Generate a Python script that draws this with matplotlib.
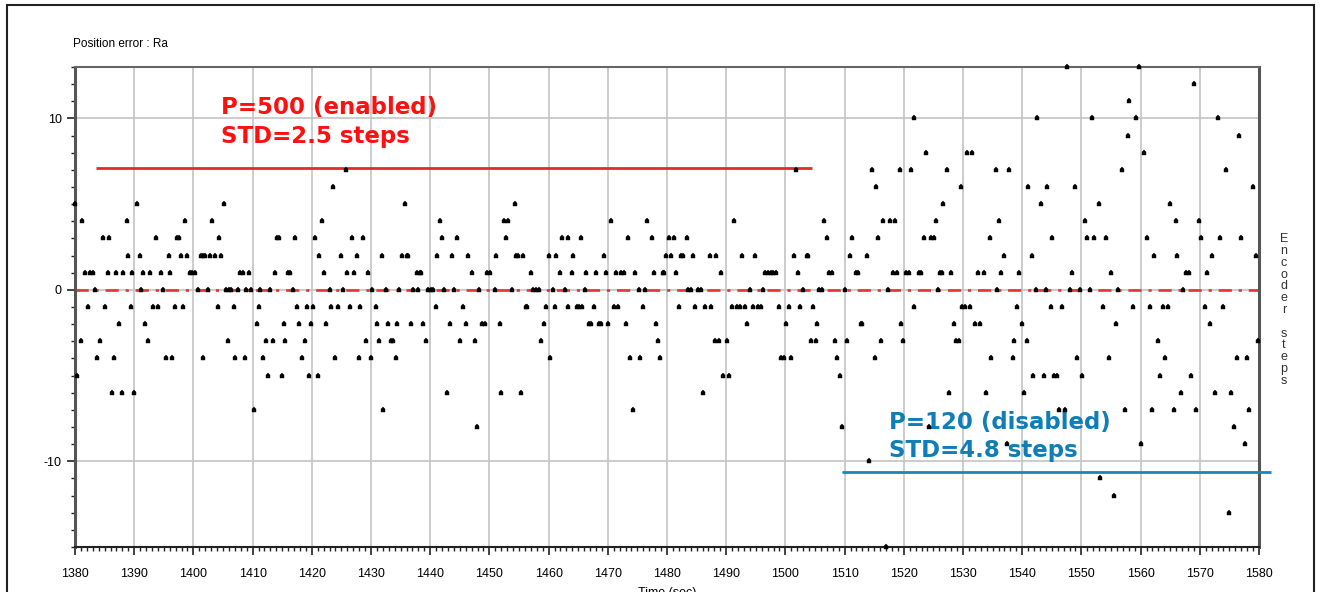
import matplotlib
matplotlib.use("Agg")
import matplotlib.pyplot as plt
from matplotlib.ticker import MultipleLocator
from matplotlib.patches import Rectangle

plt.rcParams["axes.unicode_minus"] = False

# Sampled position error (time in s, error in encoder steps)
time_enabled_a = [
    1380.0, 1380.3, 1381.0, 1381.1, 1381.7, 1382.2, 1382.6, 1383.0, 1383.4, 1383.8,
    1384.3, 1384.7, 1385.1, 1385.6, 1385.8, 1386.2, 1386.6, 1387.0, 1387.5, 1387.9,
    1388.1, 1388.7, 1389.0, 1389.4, 1389.7, 1390.0, 1390.4, 1390.9, 1391.1, 1391.5,
    1391.9, 1392.3, 1392.7, 1393.2, 1393.6, 1394.1, 1394.5, 1394.9, 1395.3, 1395.8,
    1396.0, 1396.4, 1396.9, 1397.2, 1397.5, 1397.9, 1398.2, 1398.5, 1398.9, 1399.4,
    1399.7, 1400.2, 1400.7, 1401.2, 1401.6, 1401.7, 1402.0, 1402.4, 1402.8, 1403.2,
    1403.6, 1404.1, 1404.3, 1404.7, 1405.1, 1405.5, 1405.8, 1406.0, 1406.3, 1406.8,
    1407.0, 1407.5, 1407.9, 1408.3, 1408.7, 1408.9, 1409.4, 1409.8, 1410.3, 1410.7,
    1411.1, 1411.3, 1411.7, 1412.2, 1412.6, 1413.0, 1413.4, 1413.8, 1414.1, 1414.5,
    1414.9, 1415.3, 1415.5, 1415.9, 1416.4, 1416.8, 1417.2, 1417.5, 1417.9, 1418.3,
    1418.8, 1419.2, 1419.6, 1419.8, 1420.2, 1420.6, 1421.0, 1421.3,
]
error_enabled_a = [
    5, -5, -3, 4, 1, -1, 1, 1, 0, -4,
    -3, 3, -1, 1, 3, -6, -4, 1, -2, -6,
    1, 4, 2, -1, 1, -6, 5, 2, 0, 1,
    -2, -3, 1, -1, 3, -1, 1, 0, -4, 2,
    1, -4, -1, 3, 3, 2, -1, 4, 2, 1,
    1, 1, 0, 2, 2, -4, 2, 0, 2, 4,
    2, -1, 3, 2, 5, 0, -3, 0, 0, -1,
    -4, 0, 1, 1, -4, 0, 1, 0, -7, -2,
    -1, 0, -4, -3, -5, 0, -3, 1, 3, 3,
    -5, -2, -3, 1, 1, 0, 3, -1, -2, -4,
    -3, -1, -5, -2, -1, 3, -5, 2,
]

time_enabled_b = [
    1421.7, 1422.1, 1422.4, 1423.0, 1423.2, 1423.6, 1424.0, 1424.5, 1424.9, 1425.3,
    1425.7, 1425.9, 1426.4, 1426.8, 1427.2, 1427.6, 1428.0, 1428.2, 1428.7, 1429.1,
    1429.5, 1430.0, 1430.2, 1430.8, 1431.0, 1431.4, 1431.9, 1432.1, 1432.5, 1432.9,
    1433.3, 1433.8, 1434.2, 1434.4, 1434.8, 1435.2, 1435.7, 1436.1, 1436.3, 1436.8,
    1437.1, 1437.8, 1438.0, 1438.2, 1438.5, 1438.8, 1439.3, 1439.7, 1440.1, 1440.5,
    1441.0, 1441.2, 1441.6, 1442.0, 1442.4, 1442.9, 1443.3, 1443.7, 1444.1, 1444.5,
    1445.0, 1445.6, 1446.0, 1446.4, 1447.1, 1447.5, 1447.9, 1448.3, 1448.8, 1449.2,
    1449.6, 1450.1, 1450.9, 1451.1, 1451.8, 1452.0, 1452.4, 1452.8, 1453.2, 1453.9,
    1454.3, 1454.5, 1454.9, 1455.4, 1455.7, 1456.2, 1456.4, 1457.0, 1457.4, 1457.9,
    1458.3, 1458.7, 1459.2, 1459.6, 1460.0, 1460.2, 1460.8, 1461.0, 1461.3,
]
error_enabled_b = [
    4, 1, -2, 0, -1, 6, -4, -1, 2, 0,
    7, 1, -1, 3, 1, 2, -4, -1, 3, -3,
    1, -4, 0, -1, -2, -3, 2, -7, 0, -2,
    -3, -3, -4, -2, 0, 2, 5, 2, 2, -2,
    0, 1, 0, 1, 1, -2, -3, 0, 0, 0,
    -1, 2, 4, 3, 0, -6, -2, 2, 0, 3,
    -3, -1, -2, 2, 1, -3, -8, 0, -2, -2,
    1, 1, 0, 2, -2, -6, 4, 3, 4, 0,
    5, 2, 2, -6, 2, -1, -1, 1, 0, 0,
    0, -3, -2, -1, 2, -4, 0, -1, 2,
]

time_enabled_c = [
    1461.9, 1462.3, 1462.7, 1463.2, 1463.3, 1464.0, 1464.2, 1464.8, 1465.2, 1465.4,
    1465.6, 1466.1, 1466.4, 1466.8, 1467.2, 1467.6, 1468.0, 1468.5, 1468.9, 1469.3,
    1469.7, 1470.1, 1470.6, 1471.0, 1471.4, 1471.8, 1472.3, 1472.7, 1473.1, 1473.4,
    1473.8, 1474.2, 1474.6, 1475.2, 1475.5, 1475.9, 1476.3, 1476.7, 1477.4, 1477.8,
    1478.2, 1478.4, 1478.9, 1479.3, 1479.5, 1479.9, 1480.3, 1480.7, 1481.2, 1481.6,
    1482.1, 1482.3, 1482.7, 1483.3, 1483.5, 1484.1, 1484.4, 1484.8, 1485.2, 1485.7,
    1486.1, 1486.5, 1487.2, 1487.5, 1488.1, 1488.3, 1488.7, 1489.1, 1489.5, 1490.1,
    1490.5, 1491.0, 1491.4, 1491.8, 1492.3, 1492.7, 1493.1, 1493.5, 1494.0, 1494.6,
    1494.8, 1495.3, 1495.8, 1496.3, 1496.6, 1497.1, 1497.5, 1497.9, 1498.4, 1498.9,
    1499.3, 1499.7, 1500.1, 1500.6, 1501.0, 1501.4, 1501.8, 1502.1,
]
error_enabled_c = [
    1, 3, 0, -1, 3, 1, 2, -1, -1, 3,
    -1, 0, 1, -2, -2, -1, 1, -2, -2, 2,
    1, -2, 4, -1, 1, -1, 1, 1, -2, 3,
    -4, -7, 1, 0, -4, -1, 0, 4, 3, 1,
    -2, -3, -4, 1, 1, 2, 3, 2, 3, 1,
    -1, 2, 2, 3, 0, 0, 2, -1, 0, 0,
    -6, -1, 2, -1, -3, 2, -3, 1, -5, -3,
    -5, -1, 4, -1, -1, 2, -1, -2, 0, -1,
    2, -1, -1, 0, 1, 1, 1, 1, 1, -1,
    -4, -4, -2, -1, -4, 2, 7, 1,
]

time_disabled_a = [
    1502.5, 1503.0, 1503.6, 1503.8, 1504.3, 1504.6, 1505.1, 1505.3, 1505.7, 1506.1,
    1506.6, 1507.0, 1507.4, 1507.9, 1508.3, 1508.7, 1509.3, 1509.6, 1510.1, 1510.4,
    1510.9, 1511.3, 1511.9, 1512.3, 1512.7, 1512.9, 1513.8, 1514.2, 1514.7, 1515.1,
    1515.3, 1515.7, 1516.2, 1516.5, 1517.0, 1517.4, 1517.6, 1518.2, 1518.5, 1518.9,
    1519.3, 1519.5, 1519.9, 1520.4, 1520.8, 1521.2, 1521.7, 1521.8, 1522.5, 1522.9,
    1523.4, 1523.8, 1524.2, 1524.6, 1525.1, 1525.5, 1525.7, 1526.1, 1526.5, 1526.7,
    1527.3, 1527.6, 1528.0, 1528.4, 1528.9, 1529.3, 1529.7, 1529.9, 1530.3, 1530.7,
    1531.2, 1531.6, 1532.0, 1532.5, 1532.9, 1533.5, 1533.9, 1534.6, 1534.8, 1535.5,
    1535.7, 1536.1, 1536.5, 1536.9, 1537.5, 1537.8, 1538.4, 1538.6, 1539.1, 1539.4,
    1539.9, 1540.3, 1540.8, 1541.0, 1541.6, 1541.8, 1542.3, 1542.5,
]
error_disabled_a = [
    -1, 0, 2, 2, -3, -1, -3, -2, 0, 0,
    4, 3, 1, 1, -3, -4, -5, -8, 0, -3,
    2, 3, 1, 1, -2, -2, 2, -10, 7, -4,
    6, 3, -3, 4, -15, 0, 4, 1, 4, 1,
    7, -2, -3, 1, 1, 7, -1, 10, 1, 1,
    3, 8, -8, 3, 3, 4, 0, 1, 1, 5,
    7, -6, 1, -2, -3, -3, 6, -1, -1, 8,
    -1, 8, -2, 1, -2, 1, -6, 3, -4, 7,
    0, 4, 1, 2, -9, 7, -4, -3, -1, 1,
    -2, -6, -3, 6, 2, -5, 0, 10,
]

time_disabled_b = [
    1543.1, 1543.6, 1544.0, 1544.2, 1544.8, 1545.1, 1545.4, 1545.9, 1546.3, 1546.7,
    1547.2, 1547.6, 1548.0, 1548.4, 1548.9, 1549.3, 1549.7, 1550.1, 1550.6, 1551.0,
    1551.4, 1551.8, 1552.2, 1552.9, 1553.1, 1553.7, 1554.2, 1554.6, 1555.0, 1555.5,
    1555.8, 1556.2, 1556.9, 1557.3, 1557.8, 1558.1, 1558.8, 1559.2, 1559.7, 1560.1,
    1560.5, 1561.0, 1561.6, 1562.0, 1562.2, 1562.9, 1563.3, 1563.7, 1564.1, 1564.6,
    1564.9, 1565.6, 1566.0, 1566.2, 1566.9, 1567.2, 1567.7, 1568.1, 1568.5, 1569.0,
    1569.4, 1569.8, 1570.2, 1570.8, 1571.3, 1571.7, 1572.1, 1572.6, 1573.0, 1573.4,
    1574.0, 1574.5, 1574.9, 1575.3, 1575.7, 1576.2, 1576.6, 1577.0, 1577.6, 1577.9,
    1578.3, 1579.0, 1579.5, 1579.8,
]
error_disabled_b = [
    5, -5, 0, 6, -1, 3, -5, -5, -7, -1,
    -7, 13, 0, 1, 6, -4, 0, -5, 4, 3,
    0, 10, 3, 5, -11, -1, 3, -4, 1, -12,
    -2, 0, 7, -7, 9, 11, -1, 10, 13, -9,
    8, 3, -1, -7, 2, -3, -5, -1, -4, -1,
    5, -7, 4, 2, -6, 0, 1, 1, -5, 12,
    -7, 4, 3, -1, 1, -2, 2, -6, 10, 3,
    -1, 7, -13, -6, -8, -4, 9, 3, -9, -4,
    -7, 6, 2, -3,
]

time_s = (time_enabled_a + time_enabled_b + time_enabled_c
          + time_disabled_a + time_disabled_b)
error_steps = (error_enabled_a + error_enabled_b + error_enabled_c
               + error_disabled_a + error_disabled_b)

# Annotated segments: P gain, standard deviation, level of marker line, span
enabled_label = "P=500 (enabled)\nSTD=2.5 steps"
enabled_line_y = 7.1
enabled_line_x = [1383.5, 1504.5]
disabled_label = "P=120 (disabled)\nSTD=4.8 steps"
disabled_line_y = -10.6
disabled_line_x = [1509.6, 1582.0]

x_min, x_max = 1380, 1580
y_min, y_max = -15, 13

W, H = 1322, 592
fig = plt.figure(figsize=(W / 100, H / 100), dpi=100)
fig.patch.set_facecolor("white")
ax = fig.add_axes([75 / W, 1 - 547 / H, (1259 - 75) / W, (547 - 67) / H])

# outer frame of the plot window
fig.add_artist(Rectangle((7 / W, -0.05), (1314 - 7) / W, 1.05 - 5 / H,
                         transform=fig.transFigure, fill=False,
                         edgecolor="#222222", linewidth=1.5))

ax.set_xlim(x_min, x_max)
ax.set_ylim(y_min, y_max)

ax.xaxis.set_major_locator(MultipleLocator(10))
ax.xaxis.set_minor_locator(MultipleLocator(1))
ax.yaxis.set_major_locator(MultipleLocator(10))
ax.yaxis.set_minor_locator(MultipleLocator(1))
ax.grid(True, which="major", color="#c4c4c4", linewidth=1.2)
ax.set_axisbelow(True)

ax.tick_params(axis="both", which="major", direction="out", length=6,
               width=1.2, color="#222222", labelsize=9)
ax.tick_params(axis="both", which="minor", direction="out", length=3,
               width=1.0, color="#222222")
for lbl in ax.get_xticklabels() + ax.get_yticklabels():
    lbl.set_fontfamily("Liberation Sans")
ax.tick_params(axis="x", pad=9)

for side in ("left", "right"):
    ax.spines[side].set_color("#555555")
    ax.spines[side].set_linewidth(2.2)
ax.spines["top"].set_color("#666666")
ax.spines["top"].set_linewidth(1.5)
ax.spines["bottom"].set_color("#222222")
ax.spines["bottom"].set_linewidth(1.5)

# zero reference
ax.axhline(0, color="#e43434", linewidth=1.9, dashes=(5, 2.6, 1.2, 2.6), zorder=2)

# error samples
ax.plot(time_s, error_steps, linestyle="none", marker="p", markersize=3.7,
        color="black", markeredgewidth=0.3, clip_on=False, zorder=4)

# segment annotations
ax.plot(enabled_line_x, [enabled_line_y] * 2, color="#e8282a", linewidth=2.0,
        solid_capstyle="butt", zorder=3)
ax.text(1404.7, 9.8, enabled_label, color="#ff1010", fontsize=16.5,
        fontweight="bold", family="DejaVu Sans", ha="left", va="center",
        linespacing=1.35)
ax.plot(disabled_line_x, [disabled_line_y] * 2, color="#1786bf", linewidth=2.0,
        solid_capstyle="butt", clip_on=False, zorder=3)
ax.text(1517.5, -8.55, disabled_label, color="#0e7db8", fontsize=16.5,
        fontweight="bold", family="DejaVu Sans", ha="left", va="center",
        linespacing=1.3)

# titles
fig.text(73 / W, 1 - 44 / H, "Position error : Ra", fontsize=8.5,
         family="Liberation Sans", ha="left", va="center")
fig.text(1284 / W, 1 - 310 / H, "\n".join("Encoder steps"),
         fontsize=9, family="Liberation Sans", ha="center", va="center",
         linespacing=0.98, color="#333333")
ax.set_xlabel("Time (sec)", fontsize=9, family="Liberation Sans", labelpad=5)

fig.savefig("out.png", dpi=100)
